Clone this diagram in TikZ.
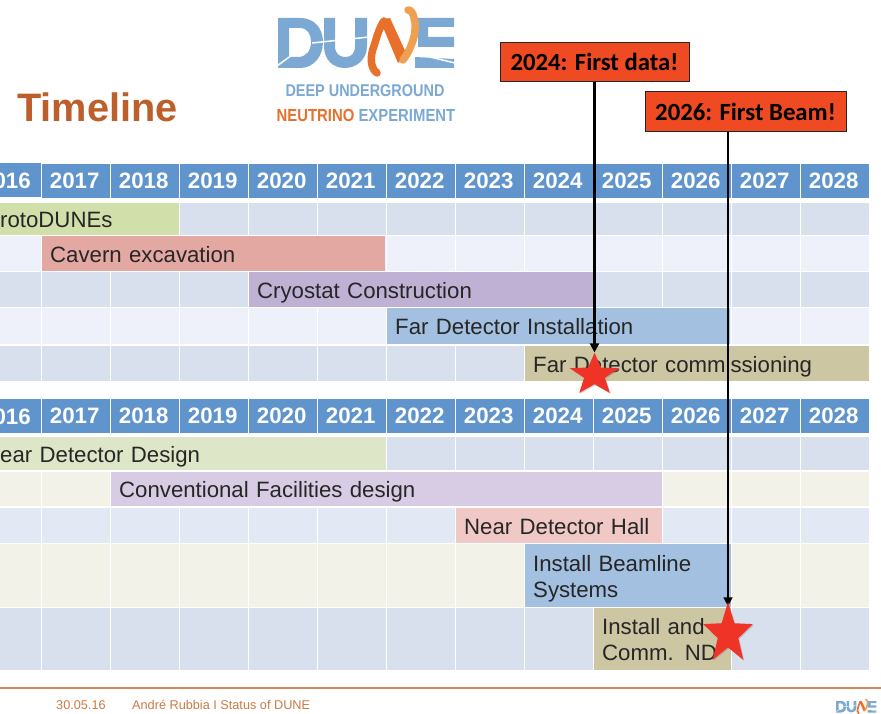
\documentclass[tikz,border=0pt]{standalone}
\usepackage{fontspec}
\setmainfont{Liberation Sans}
\newfontfamily\calloutfont{Carlito}
\newfontfamily\narrowfont[FakeStretch=0.85]{Liberation Sans}
\usetikzlibrary{arrows.meta,shapes.geometric,shadows}
\pgfdeclarelayer{front}
\pgfsetlayers{main,front}
\definecolor{hdblue}{HTML}{5F94CC}
\definecolor{rowdark}{HTML}{D9E0ED}
\definecolor{rowlight}{HTML}{EEF1F9}
\definecolor{rowblue}{HTML}{E2E8F4}
\definecolor{rowcream}{HTML}{F2F2E9}
\definecolor{logoblue}{HTML}{7BA9D3}
\definecolor{logoorange}{HTML}{E8702A}
\definecolor{logolight}{HTML}{EE9F50}
\definecolor{titlebrown}{HTML}{BC5F2B}
\definecolor{barred}{HTML}{E4A8A2}
\definecolor{bargreen}{HTML}{D1DFAB}
\definecolor{barviolet}{HTML}{BFB1D4}
\definecolor{barblue}{HTML}{A3C0E0}
\definecolor{barsand}{HTML}{CDC6A2}
\definecolor{barpalegreen}{HTML}{DEE6C8}
\definecolor{barpaleviolet}{HTML}{D8CCE5}
\definecolor{barpink}{HTML}{F0C8C5}
\definecolor{callred}{HTML}{F04A22}
\definecolor{starred}{HTML}{EF3326}
\definecolor{footorange}{HTML}{CC7A45}
\tikzset{
  dunelogo/.pic={
    % D and U
    \fill[logoblue, even odd rule] (0,0) -- (22,0) .. controls (38,0) and (45,12) .. (45,24)
      .. controls (45,38) and (36,50) .. (22,50) -- (0,50) -- cycle
      (11,10) -- (22,10) .. controls (30,10) and (33,17) .. (33,24)
      .. controls (33,33) and (28,39) .. (20,39) -- (11,39) -- cycle;
    \fill[logoblue] (46,0) -- (57,0) -- (57,28) .. controls (57,36) and (62,39) .. (67,39)
      .. controls (73,39) and (77,36) .. (77,28) -- (77,0) -- (89,0) -- (89,28)
      .. controls (89,42) and (78,50) .. (67,50) .. controls (55,50) and (46,42) .. (46,28) -- cycle;
    \draw[white, line width=#1*0.3pt] (-1,48) -- (14,37);
    \draw[white, line width=#1*0.3pt] (34,25) -- (91,19);
    % E
    \fill[logoblue] (140,0) -- (176,0) -- (176,9) -- (150,9) -- (150,19) -- (176,19) -- (176,29) -- (140,29) -- cycle;
    \fill[logoblue] (137,39) -- (176,41) -- (176,50) -- (137,50) -- cycle;
    \draw[white, line width=#1*0.3pt] (152,39) -- (177,45);
    % swoosh
    \draw[logoorange, line width=#1*1.5pt, line cap=round] (99,55) .. controls (92,50) and (92,38) .. (96,28)
      .. controls (99,18) and (102,8) .. (106,3);
    \fill[logoorange] (102,2) -- (112,0) -- (129,37) -- (120,45) -- cycle;
    \draw[logolight, line width=#1*1.5pt, line cap=round] (125,42) .. controls (134,30) and (140,12) .. (136,0)
      .. controls (135,-5) and (133,-8) .. (130,-8);
  }
}
\begin{document}
\begin{tikzpicture}[
    x=1pt, y=-1pt,
    hdcell/.style={fill=hdblue, text=white, font=\fontsize{22.3}{25}\selectfont\bfseries, minimum width=68pt, minimum height=34pt, inner sep=0pt, anchor=north west},
    hdcut/.style={text=white, font=\fontsize{22.3}{25}\selectfont\bfseries, anchor=east, inner sep=0pt},
    barbox/.style={font=\fontsize{22.2}{26}\selectfont, text=black!85, align=left, inner ysep=0pt, inner xsep=8pt, anchor=north west,
      execute at begin node={\rule[-6pt]{0pt}{29pt}}, execute at end node={\rule[-6pt]{0pt}{6pt}}},
    callout/.style={draw=black!85, line width=1pt, fill=callred, font=\calloutfont\fontsize{24.7}{30}\selectfont\bfseries, text=black, inner sep=0pt},
    redstar/.style={star, star points=5, star point ratio=2.4, fill=starred, inner sep=0pt, transform shape, drop shadow={opacity=0.35, shadow xshift=1pt, shadow yshift=-1pt}},
    pointer/.style={black, -{Triangle[length=9pt, width=9pt]}},
    foottext/.style={font=\fontsize{12.7}{14}\selectfont, text=footorange, anchor=west, inner sep=0pt}
  ]
  \clip (0,0) rectangle (881,714);
  \fill[white] (0,0) rectangle (881,714);

  % Logo and title
  \pic at (278,18) {dunelogo=5};
  \node[font=\narrowfont\fontsize{17}{20}\selectfont\bfseries, text=logoblue, inner sep=0pt] (deep) at (365,91) {DEEP UNDERGROUND};
  \node[font=\narrowfont\fontsize{17.5}{20}\selectfont\bfseries, text=logoblue, inner sep=0pt] (neutrino) at (366,115) {\textcolor{logoorange}{NEUTRINO} EXPERIMENT};
  \node[font=\fontsize{39.7}{44}\selectfont\bfseries, text=titlebrown, anchor=west, inner sep=0pt] (title) at (17,107) {Timeline};

  % Grid cells of both tables
  \foreach \ytop/\yh/\rowcol in {203/32/rowdark, 236/35/rowlight, 272/35/rowdark, 308/36/rowlight, 346/35/rowdark,
                                 437/33/rowdark, 472/34/rowcream, 508/35/rowblue, 544/63/rowcream, 608/62/rowdark}
    \foreach \i in {-1,...,11}
      \fill[\rowcol] (42+69*\i,\ytop) rectangle ++(68,\yh);

  % Year headers
  \foreach \yr [count=\i from 0] in {2017,...,2028} {
    \node[hdcell] (top\yr) at (42+69*\i,163.5) {\hspace*{-3pt}\raisebox{-2pt}{\yr}};
    \node[hdcell] (low\yr) at (42+69*\i,399) {\hspace*{-3pt}\raisebox{-2pt}{\yr}};
  }
  \fill[hdblue] (0,163.5) rectangle (40.5,197.5);
  \fill[hdblue] (0,399) rectangle (40.5,433);
  \node[hdcut] (top2016) at (31,181) {016};
  \node[hdcut] (low2016) at (31,416.5) {016};

  % First table bars
  \node[barbox, fill=bargreen, inner xsep=0pt, text width=179pt, minimum height=32pt] (proto) at (0,203) {rotoDUNEs};
  \node[barbox, fill=barred, text width=327pt, minimum height=35pt] (cavern) at (42,236) {Cavern excavation};
  \node[barbox, fill=barviolet, text width=329pt, minimum height=35pt] (cryostat) at (249,272) {Cryostat Construction};
  \node[barbox, fill=barblue, text width=327pt, minimum height=36pt] (fdinstall) at (387,308) {Far Detector Installation};
  \node[barbox, fill=barsand, text width=328pt, minimum height=35pt] (fdcomm) at (525,346) {Far Detector commissioning};

  % Second table bars
  \node[barbox, fill=barpalegreen, inner xsep=0pt, text width=386pt, minimum height=33pt] (nddesign) at (0,437) {ear Detector Design};
  \node[barbox, fill=barpaleviolet, text width=535pt, minimum height=34pt] (confac) at (111,472) {Conventional Facilities design};
  \node[barbox, fill=barpink, text width=190pt, minimum height=35pt] (ndhall) at (456,508) {Near Detector Hall};
  \node[barbox, fill=barblue, text width=190pt, minimum height=63pt] (beamline) at (525,544) {Install Beamline\\Systems};
  \node[barbox, fill=barsand, text width=121pt, minimum height=62pt] (ndcomm) at (594,608) {Install and\\Comm. ND};

  % Footer
  \draw[footorange!90, line width=2.5pt] (0,688) -- (881,688);
  \node[foottext] (date) at (56,705) {30.05.16};
  \node[foottext] (talk) at (132,705) {André Rubbia I Status of DUNE};
  \pic[scale=0.23] at (836,701) {dunelogo=1.1};

  % Callouts and stars
  \node[callout, minimum width=189pt, minimum height=39pt] (first) at (594.5,62) {2024: First data!};
  \node[callout, minimum width=201pt, minimum height=40pt] (beam) at (745.5,112) {2026: First Beam!};
  \begin{pgfonlayer}{front}
    \node[redstar, minimum size=52pt, yscale=0.85] (star24) at (594.5,375) {};
    \node[redstar, minimum size=52pt, yscale=1.23] (star26) at (728,634) {};
  \end{pgfonlayer}
  \draw[pointer, line width=2.6pt] (first.south) -- (star24.north);
  \draw[pointer, line width=1.6pt, shorten >=-5pt] (beam.south -| star26.north) -- (star26.north);
\end{tikzpicture}
\end{document}
